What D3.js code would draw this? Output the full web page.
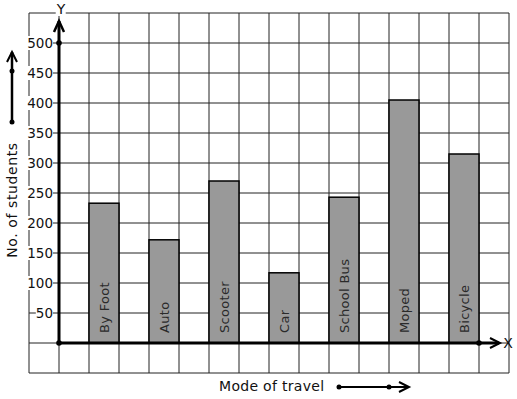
<!DOCTYPE html>
<html>
<head>
<meta charset="utf-8">
<script src="https://cdn.jsdelivr.net/npm/d3@7"></script>
<style>
  body { margin: 0; background: #fff; }
  svg { display: block; font-family: 'DejaVu Sans', sans-serif; }
</style>
</head>
<body>
<svg id="chart" width="517" height="399"></svg>
<script>
// data
const modes = ['By Foot', 'Auto', 'Scooter', 'Car', 'School Bus', 'Moped', 'Bicycle'];
const students = [233, 172, 270, 117, 243, 405, 315];
const yTicks = [50, 100, 150, 200, 250, 300, 350, 400, 450, 500];
const xTitle = 'Mode of travel';
const yTitle = 'No. of students';

const svg = d3.select('#chart');

// graph paper: 16 columns x 12 rows of 30px squares
const col = d3.scaleLinear().domain([0, 16]).range([29, 509]);
const y = d3.scaleLinear().domain([0, 500]).range([343, 43]);
const x = d3.scaleBand()
  .domain(modes)
  .range([col(2), col(15)])
  .paddingInner(0.5)
  .paddingOuter(0);

const grid = svg.append('g').attr('stroke', '#222').attr('stroke-width', 1);
grid.selectAll('line.v')
  .data(d3.range(0, 17))
  .join('line')
  .attr('class', 'v')
  .attr('x1', d => col(d)).attr('x2', d => col(d))
  .attr('y1', y(550)).attr('y2', y(-50));
grid.selectAll('line.h')
  .data(d3.range(-50, 551, 50))
  .join('line')
  .attr('class', 'h')
  .attr('x1', col(0)).attr('x2', col(16))
  .attr('y1', d => y(d)).attr('y2', d => y(d));

// bars
svg.append('g')
  .selectAll('rect')
  .data(modes)
  .join('rect')
  .attr('x', d => x(d))
  .attr('width', x.bandwidth())
  .attr('y', (d, i) => y(students[i]))
  .attr('height', (d, i) => y(0) - y(students[i]))
  .attr('fill', '#999')
  .attr('stroke', '#000')
  .attr('stroke-width', 1.5);

// labels written inside the bars
svg.append('g')
  .selectAll('text')
  .data(modes)
  .join('text')
  .attr('transform', d => `translate(${x(d) + x.bandwidth() / 2 + 5},${y(0) - 10}) rotate(-90)`)
  .attr('font-size', 13)
  .attr('letter-spacing', 0.3)
  .attr('fill', '#2a2a2a')
  .text(d => d);

// text with a white patch behind it, so grid lines break around it
function labelWithBg(g, text, px, py, anchor, size) {
  const t = g.append('text')
    .attr('x', px).attr('y', py)
    .attr('text-anchor', anchor)
    .attr('dominant-baseline', 'central')
    .attr('font-size', size)
    .attr('fill', '#111')
    .text(text);
  const b = t.node().getBBox();
  g.insert('rect', () => t.node())
    .attr('x', b.x).attr('y', b.y + 1)
    .attr('width', b.width).attr('height', b.height - 2)
    .attr('fill', '#fff');
  return t;
}

const tickG = svg.append('g');
yTicks.forEach(v => {
  labelWithBg(tickG.append('g'), v, 53, y(v), 'end', 13.5);
});

// axes
const axes = svg.append('g').attr('stroke', '#000').attr('fill', 'none');
axes.append('line')
  .attr('x1', col(1)).attr('x2', col(1))
  .attr('y1', y(0)).attr('y2', 21)
  .attr('stroke-width', 3);
axes.append('path')
  .attr('d', `M${col(1) - 5},32L${col(1)},21L${col(1) + 5},32`)
  .attr('stroke-width', 2.5);
axes.append('line')
  .attr('x1', col(1)).attr('x2', 499)
  .attr('y1', y(0)).attr('y2', y(0))
  .attr('stroke-width', 3);
axes.append('path')
  .attr('d', `M490,${y(0) - 5}L500,${y(0)}L490,${y(0) + 5}`)
  .attr('stroke-width', 2);

svg.append('g')
  .selectAll('circle')
  .data([[col(1), y(0)], [col(1), y(500)], [col(15), y(0)]])
  .join('circle')
  .attr('cx', d => d[0]).attr('cy', d => d[1])
  .attr('r', 2.8)
  .attr('fill', '#000');

// axis letters
labelWithBg(svg.append('g'), 'Y', col(1) + 2, 9, 'middle', 14);
svg.append('text')
  .attr('x', 508).attr('y', y(0))
  .attr('text-anchor', 'middle')
  .attr('dominant-baseline', 'central')
  .attr('font-size', 14)
  .attr('fill', '#111')
  .text('X');

// y title with arrow above it
svg.append('text')
  .attr('transform', 'translate(17,200) rotate(-90)')
  .attr('text-anchor', 'middle')
  .attr('font-size', 14)
  .attr('letter-spacing', 0.6)
  .attr('fill', '#111')
  .text(yTitle);
const ya = svg.append('g').attr('stroke', '#000').attr('fill', 'none');
ya.append('line').attr('x1', 12).attr('x2', 12).attr('y1', 122).attr('y2', 52).attr('stroke-width', 2.5);
ya.append('path').attr('d', 'M7,62L12,52L17,62').attr('stroke-width', 2);
ya.selectAll('circle')
  .data([71, 122])
  .join('circle')
  .attr('cx', 12).attr('cy', d => d).attr('r', 2.5)
  .attr('fill', '#000').attr('stroke', 'none');

// x title with arrow beside it
svg.append('text')
  .attr('x', 219).attr('y', 391)
  .attr('font-size', 14)
  .attr('letter-spacing', 0.3)
  .attr('fill', '#111')
  .text(xTitle);
const xa = svg.append('g').attr('stroke', '#000').attr('fill', 'none');
xa.append('line').attr('x1', 339).attr('x2', 408).attr('y1', 387).attr('y2', 387).attr('stroke-width', 2);
xa.append('path').attr('d', 'M399,382L409,387L399,392').attr('stroke-width', 2);
xa.selectAll('circle')
  .data([339, 389])
  .join('circle')
  .attr('cx', d => d).attr('cy', 387).attr('r', 2.5)
  .attr('fill', '#000').attr('stroke', 'none');
</script>
</body>
</html>
